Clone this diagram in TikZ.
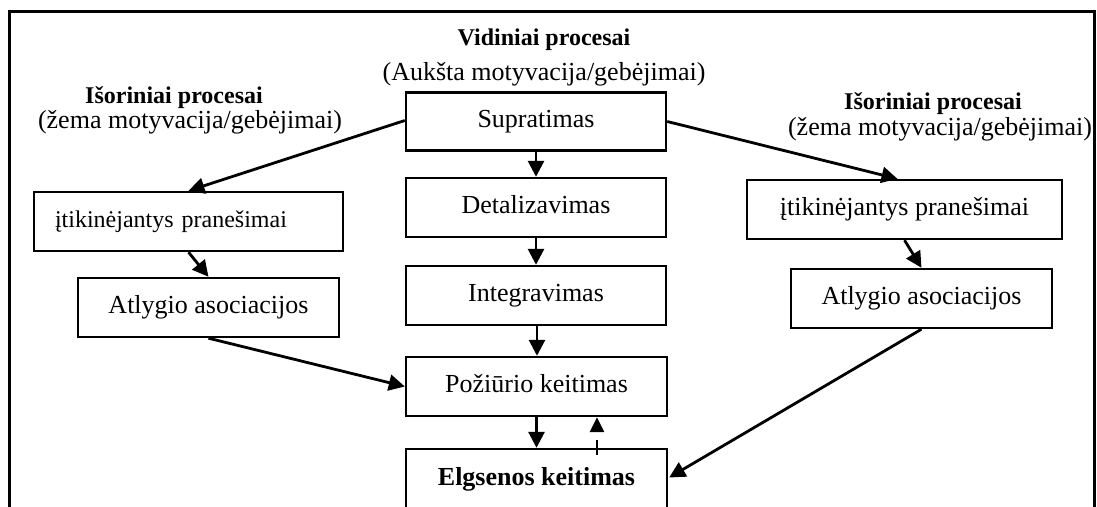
\documentclass[tikz,border=0pt]{standalone}
\usepackage{fontspec}
\setmainfont{Liberation Serif}
\usetikzlibrary{arrows.meta,calc}

\tikzset{
  box/.style={draw, line width=2.4pt, rectangle, inner sep=0pt,
    text height=18pt, text depth=6pt, align=center,
    font=\fontsize{26}{30}\selectfont},
  flow/.style={line width=2.8pt, -{Triangle[length=16pt,width=16pt]}},
  feedback/.style={line width=2.8pt, dash pattern=on 15pt off 10pt,
    -{Triangle[length=15pt,width=14pt]}},
  head/.style={anchor=base, inner sep=0pt, font=\fontsize{24}{28}\selectfont\bfseries},
  sub/.style={anchor=base, inner sep=0pt, font=\fontsize{26}{30}\selectfont},
}

\begin{document}
\begin{tikzpicture}[x=1pt, y=-1pt]
  \useasboundingbox (0,0) rectangle (1097,506);
  \clip (0,0) rectangle (1097,506);

  % outer frame, open at the bottom
  \draw[line width=3pt] (9,520) -- (9,11) -- (1094,11) -- (1094,520);

  % headings
  \node[head] (hin)  at (544,45)  {Vidiniai procesai};
  \node[sub]  (hins) at (544,80)  {(Aukšta motyvacija/gebėjimai)};
  \node[head] (hl)   at (174,103) {Išoriniai procesai};
  \node[sub]  (hls)  at (190,128) {(žema motyvacija/gebėjimai)};
  \node[head] (hr)   at (933,109) {Išoriniai procesai};
  \node[sub]  (hrs)  at (940,135) {(žema motyvacija/gebėjimai)};

  % central chain
  \node[box, minimum width=260pt, minimum height=58pt] (sup) at (536,121.5) {Supratimas};
  \node[box, minimum width=260pt, minimum height=59pt] (det) at (536,207.5) {Detalizavimas};
  \node[box, minimum width=260pt, minimum height=59pt] (int) at (536,295.5) {Integravimas};
  \node[box, minimum width=261pt, minimum height=59pt] (poz) at (536.5,386.5) {Požiūrio keitimas};
  \node[box, minimum width=261pt, minimum height=61pt, font=\fontsize{26}{30}\selectfont\bfseries]
    (elg) at (536.5,479.5) {Elgsenos keitimas};

  % left branch
  \node[box, text width=267pt, inner xsep=21pt, minimum height=59pt, align=left,
        font=\fontsize{24}{28}\selectfont] (litik) at (188.5,221.5) {įtikinėjantys pranešimai};
  \node[box, minimum width=261pt, minimum height=59pt] (latl) at (208.5,307.5) {Atlygio asociacijos};

  % right branch
  \node[box, minimum width=315pt, minimum height=59pt] (ritik) at (904.5,209.5) {įtikinėjantys pranešimai};
  \node[box, minimum width=261pt, minimum height=59pt] (ratl) at (921.5,298.5) {Atlygio asociacijos};

  % connectors
  \draw[flow] ($(sup.west)+(0,-1)$) -- (litik.north);
  \draw[flow] (sup.east) -- ($(ritik.north)+(-7,0)$);
  \draw[flow] (sup) -- (det);
  \draw[flow] (det) -- (int);
  \draw[flow] ($(int.south)+(1,0)$) -- ($(poz.north)+(0.5,0)$);
  \draw[flow] (litik.south) -- (latl.north);
  \draw[flow] (ritik.south) -- (ratl.north);
  \draw[flow] (latl.south) -- (poz.west);
  \draw[flow] (ratl.south) -- ($(elg.east)+(1,-2)$);
  \draw[flow] (poz) -- (elg);
  \coordinate (fb) at ($(elg.north)+(60.5,7)$);
  \draw[feedback] (fb) -- (fb |- poz.south);
\end{tikzpicture}
\end{document}
